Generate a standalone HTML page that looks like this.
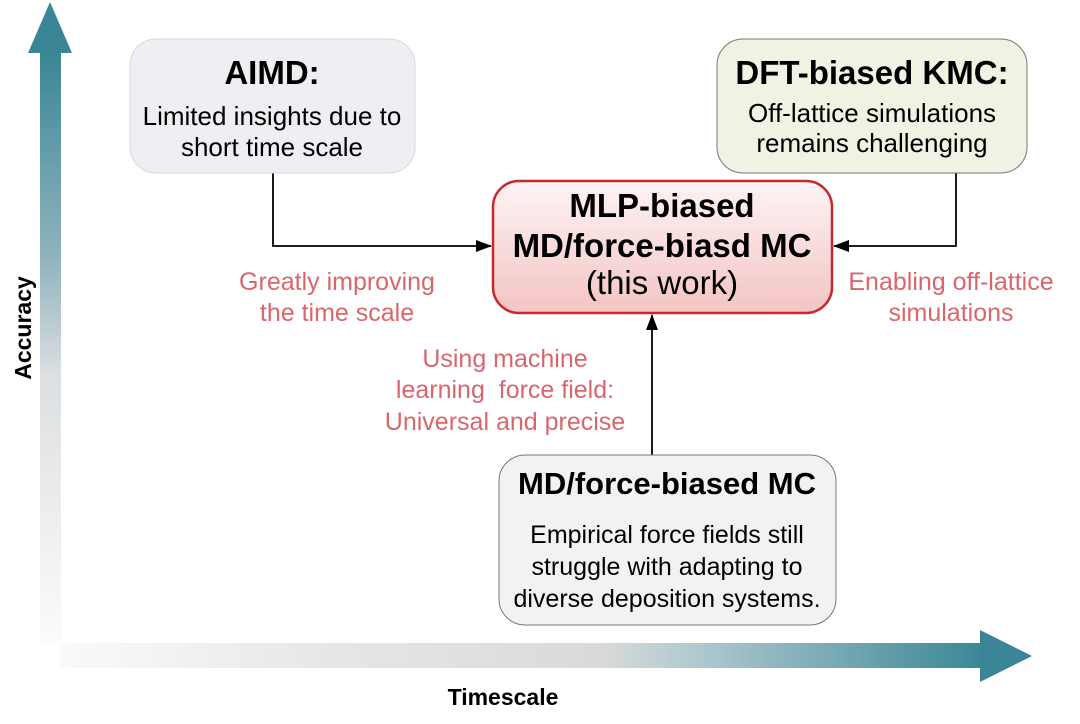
<!DOCTYPE html>
<html><head><meta charset="utf-8"><style>
html,body{margin:0;padding:0;background:#fff;}
svg{display:block;font-family:"Liberation Sans",Arial,sans-serif;}
</style></head><body>
<svg width="1080" height="724" viewBox="0 0 1080 724" xmlns="http://www.w3.org/2000/svg">
<defs>
<linearGradient id="gv" x1="0" y1="0" x2="0" y2="1">
<stop offset="0" stop-color="#3a8696"/>
<stop offset="0.35" stop-color="#8fb3bd"/>
<stop offset="0.55" stop-color="#dcdfe1"/>
<stop offset="1" stop-color="#fbfbfb"/>
</linearGradient>
<linearGradient id="gh" x1="0" y1="0" x2="1" y2="0">
<stop offset="0" stop-color="#fafafa"/>
<stop offset="0.3" stop-color="#e6e6e6"/>
<stop offset="0.58" stop-color="#dadada"/>
<stop offset="0.68" stop-color="#b2cbd0"/>
<stop offset="1" stop-color="#3a8696"/>
</linearGradient>
<linearGradient id="gc" x1="0" y1="0" x2="0" y2="1">
<stop offset="0" stop-color="#fdf3f3"/>
<stop offset="1" stop-color="#f4c4c4"/>
</linearGradient>
<marker id="ah" markerWidth="16" markerHeight="12" refX="15" refY="6" orient="auto" markerUnits="userSpaceOnUse">
<path d="M0,0 L16,6 L0,12 z" fill="#000"/>
</marker>
</defs>

<rect x="40" y="50" width="21" height="592" fill="url(#gv)"/>
<path d="M28,53 L50,2 L72,53 z" fill="#3a8696"/>
<rect x="60" y="643" width="925" height="25" fill="url(#gh)"/>
<path d="M980,630 L1032,656 L980,682 z" fill="#3a8696"/>

<text x="31" y="328" transform="rotate(-90 31 328)" text-anchor="middle" font-size="23" font-weight="bold" fill="#000">Accuracy</text>
<text x="503" y="705" text-anchor="middle" font-size="23" font-weight="bold" fill="#000">Timescale</text>

<polyline points="273,173 273,246 491,246" fill="none" stroke="#000" stroke-width="1.8" marker-end="url(#ah)"/>
<polyline points="956,173 956,246 834,246" fill="none" stroke="#000" stroke-width="1.8" marker-end="url(#ah)"/>
<line x1="652" y1="455" x2="652" y2="315" stroke="#000" stroke-width="1.8" marker-end="url(#ah)"/>

<rect x="130" y="39" width="285" height="134" rx="26" fill="#efeff3" stroke="#d8d8dc" stroke-width="1"/>
<text x="272" y="84" text-anchor="middle" font-size="33" font-weight="bold">AIMD:</text>
<text x="272" y="125" text-anchor="middle" font-size="26">Limited insights due to</text>
<text x="272" y="156" text-anchor="middle" font-size="26">short time scale</text>

<rect x="717" y="39" width="310" height="134" rx="26" fill="#eef3e4" stroke="#777" stroke-width="1"/>
<text x="872" y="84" text-anchor="middle" font-size="33" font-weight="bold">DFT-biased KMC:</text>
<text x="872" y="122" text-anchor="middle" font-size="26">Off-lattice simulations</text>
<text x="872" y="152" text-anchor="middle" font-size="26">remains challenging</text>

<rect x="493" y="181" width="339" height="132" rx="26" fill="url(#gc)" stroke="#c8282c" stroke-width="2.5"/>
<text x="662" y="217" text-anchor="middle" font-size="33" font-weight="bold">MLP-biased</text>
<text x="662" y="257" text-anchor="middle" font-size="33" font-weight="bold">MD/force-biasd MC</text>
<text x="662" y="294" text-anchor="middle" font-size="33">(this work)</text>

<rect x="499" y="455" width="337" height="170" rx="26" fill="#f2f2f2" stroke="#777" stroke-width="1"/>
<text x="667" y="494" text-anchor="middle" font-size="31" font-weight="bold">MD/force-biased MC</text>
<text x="667" y="543" text-anchor="middle" font-size="25">Empirical force fields still</text>
<text x="667" y="575" text-anchor="middle" font-size="25">struggle with adapting to</text>
<text x="667" y="607" text-anchor="middle" font-size="25">diverse deposition systems.</text>

<g fill="#d9666b" font-size="25" text-anchor="middle">
<text x="337" y="290">Greatly improving</text>
<text x="337" y="321">the time scale</text>
<text x="951" y="290">Enabling off-lattice</text>
<text x="951" y="321">simulations</text>
<text x="505" y="367">Using machine</text>
<text x="505" y="398" xml:space="preserve">learning  force field:</text>
<text x="505" y="430">Universal and precise</text>
</g>
</svg>
</body></html>
